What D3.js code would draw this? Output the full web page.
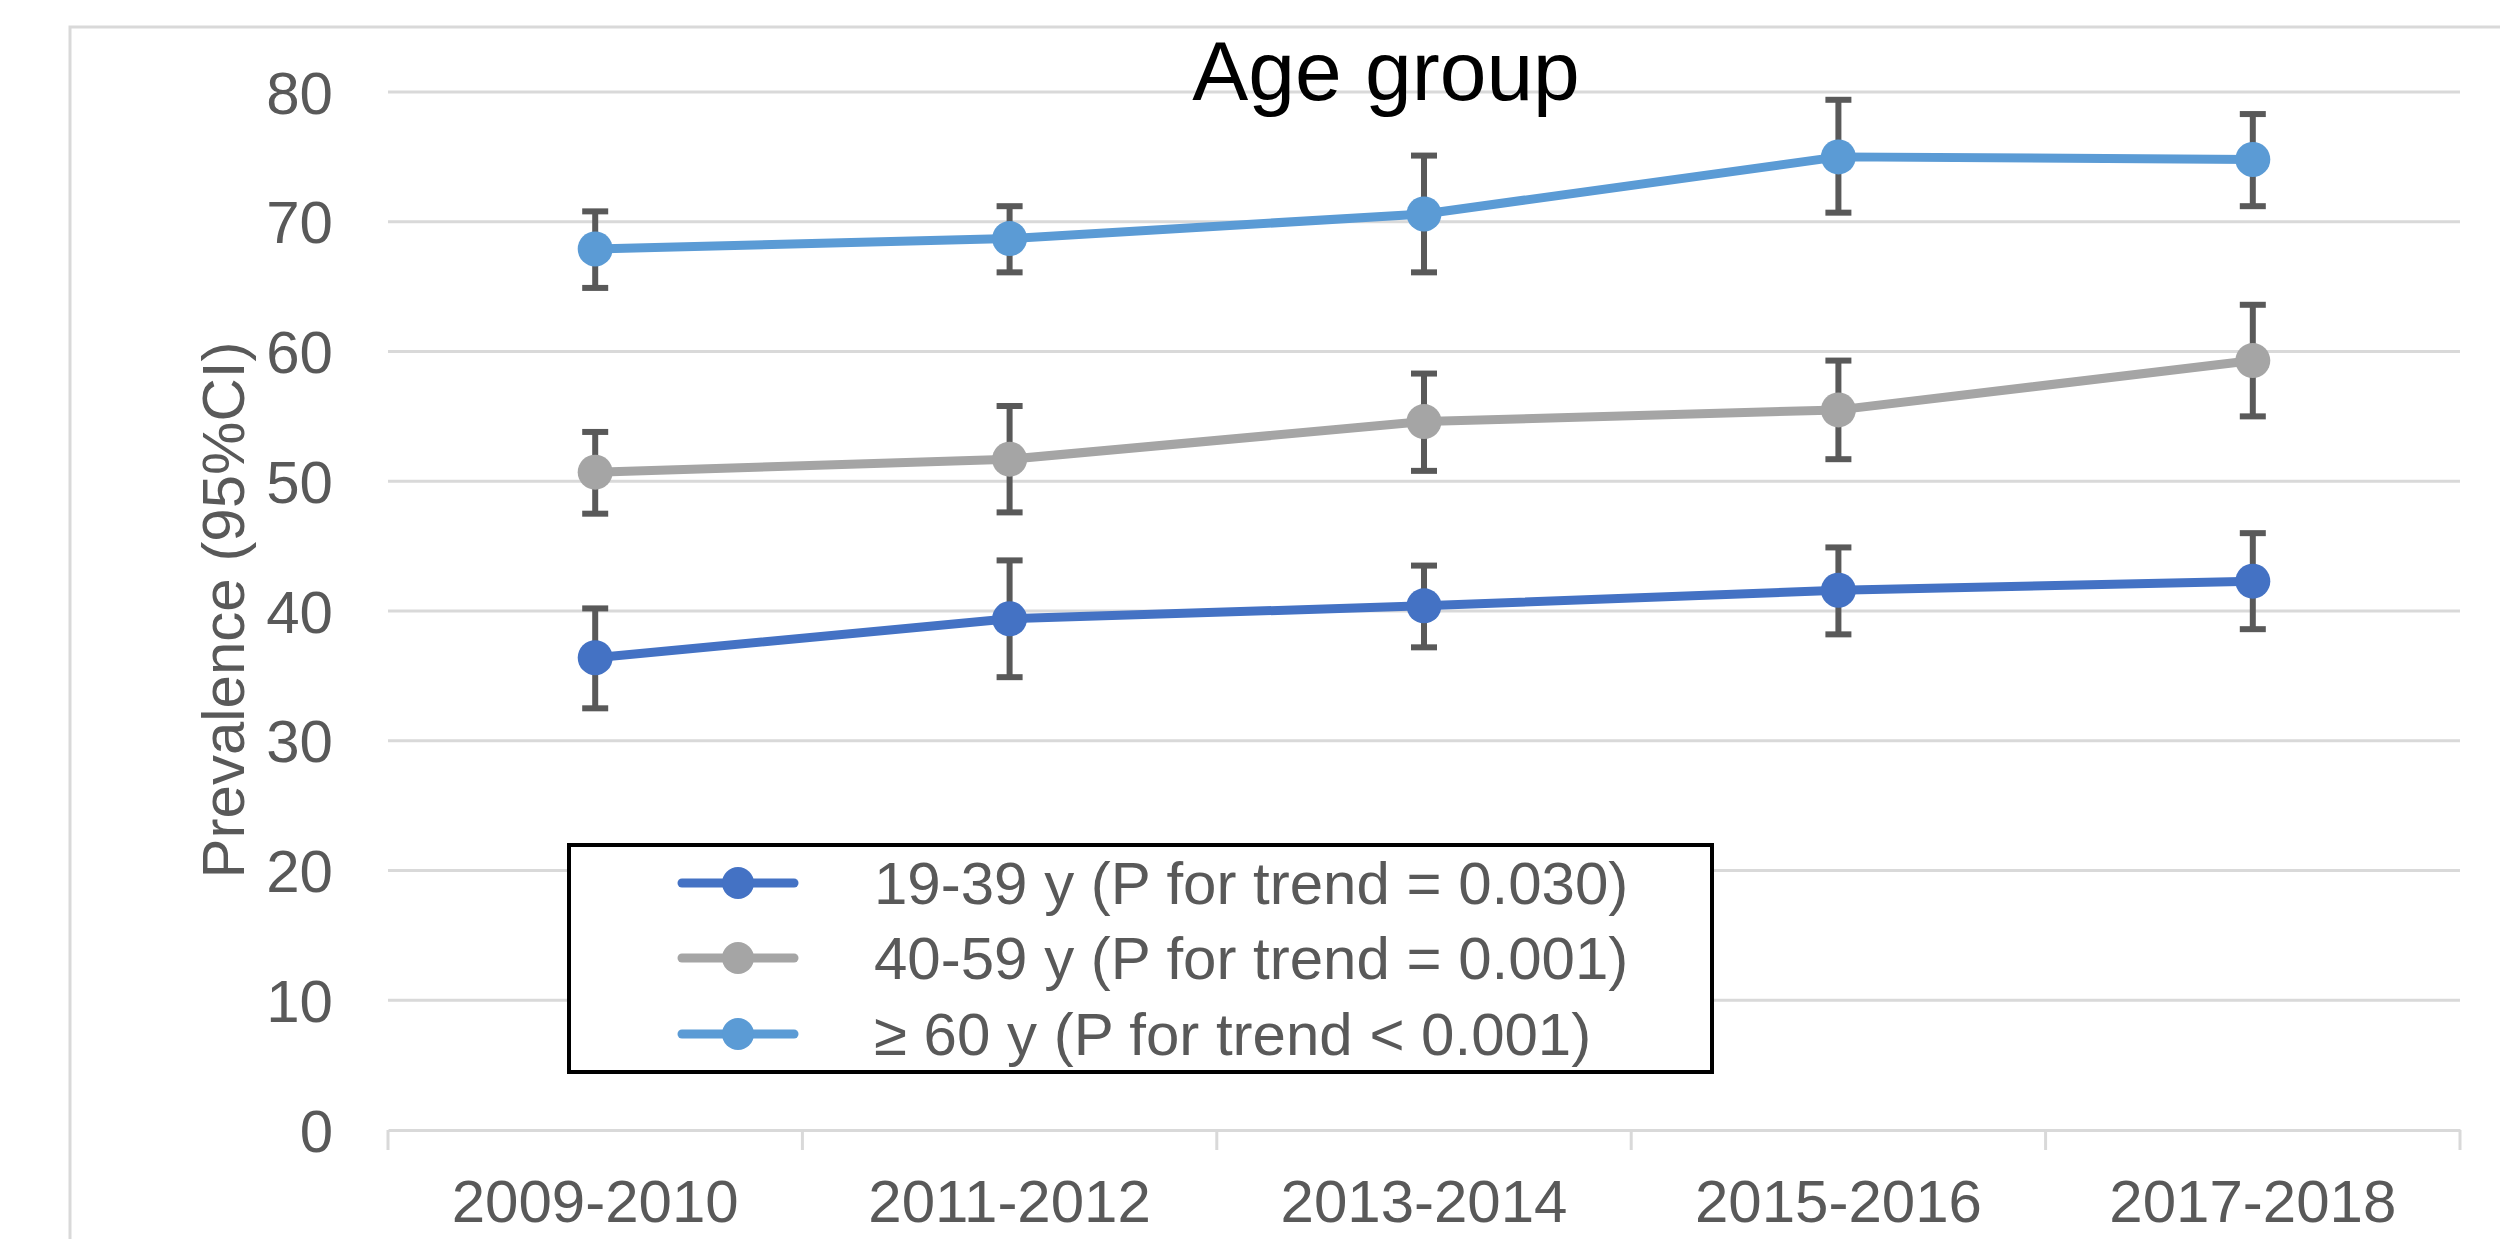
<!DOCTYPE html>
<html>
<head>
<meta charset="utf-8">
<script src="https://cdn.jsdelivr.net/npm/d3@7"></script>
<style>
  html, body { margin: 0; padding: 0; background: #fff; }
  svg { display: block; font-family: "Liberation Sans", Arial, sans-serif; }
</style>
</head>
<body>
<svg id="chart" width="2500" height="1239"></svg>
<script>
const categories = ["2009-2010", "2011-2012", "2013-2014", "2015-2016", "2017-2018"];
const yTicks = [0, 10, 20, 30, 40, 50, 60, 70, 80];
const seriesNames = [
  "19-39 y (P for trend = 0.030)",
  "40-59 y (P for trend = 0.001)",
  "\u2265 60 y (P for trend < 0.001)"
];
const seriesColors = ["#4472C4", "#A5A5A5", "#5B9BD5"];

const young = [36.4, 39.4, 40.4, 41.6, 42.3];
const youngLow = [32.5, 34.9, 37.2, 38.2, 38.6];
const youngHigh = [40.2, 43.9, 43.5, 44.9, 46.0];

const middle = [50.7, 51.7, 54.6, 55.5, 59.3];
const middleLow = [47.5, 47.6, 50.8, 51.7, 55.0];
const middleHigh = [53.8, 55.8, 58.3, 59.3, 63.6];

const old = [67.9, 68.7, 70.6, 75.0, 74.8];
const oldLow = [64.9, 66.1, 66.1, 70.7, 71.2];
const oldHigh = [70.8, 71.2, 75.1, 79.4, 78.3];

const series = [
  { name: seriesNames[0], color: seriesColors[0], values: young, low: youngLow, high: youngHigh },
  { name: seriesNames[1], color: seriesColors[1], values: middle, low: middleLow, high: middleHigh },
  { name: seriesNames[2], color: seriesColors[2], values: old, low: oldLow, high: oldHigh }
];

const svg = d3.select("#chart");
const textColor = "#595959";
const gridColor = "#d9d9d9";

// outer chart-area border
svg.append("rect")
  .attr("x", 70).attr("y", 27)
  .attr("width", 2500).attr("height", 1400)
  .attr("fill", "none").attr("stroke", gridColor).attr("stroke-width", 3);

const x = d3.scaleBand().domain(categories).range([388, 2460]).padding(0);
const y = d3.scaleLinear().domain([0, 80]).range([1130, 92]);

// gridlines
svg.append("g")
  .selectAll("line")
  .data(yTicks.filter(t => t !== 0))
  .join("line")
  .attr("x1", 388).attr("x2", 2460)
  .attr("y1", d => y(d)).attr("y2", d => y(d))
  .attr("stroke", gridColor).attr("stroke-width", 3);

// y axis labels
const yAxis = d3.axisLeft(y).tickValues(yTicks).tickSize(0).tickPadding(0).tickFormat(d3.format("d"));
const gy = svg.append("g").attr("transform", "translate(333,0)").call(yAxis);
gy.select(".domain").remove();
gy.selectAll("text").attr("font-size", 60).attr("fill", textColor)
  .attr("font-family", "'Liberation Sans', Arial, sans-serif").attr("dy", "0.35em");

// x axis
const xAxis = d3.axisBottom(x).tickSize(0).tickPadding(0);
const gx = svg.append("g").attr("transform", `translate(0,${y(0)})`).call(xAxis);
gx.select(".domain").attr("stroke", gridColor).attr("stroke-width", 3);
gx.selectAll("text").attr("font-size", 60).attr("fill", textColor)
  .attr("font-family", "'Liberation Sans', Arial, sans-serif").attr("y", 92).attr("dy", 0);
// category boundary tick marks
const bounds = categories.map(c => x(c)).concat([x.range()[1]]);
svg.append("g").selectAll("line").data(bounds).join("line")
  .attr("x1", d => d).attr("x2", d => d)
  .attr("y1", y(0)).attr("y2", y(0) + 20)
  .attr("stroke", gridColor).attr("stroke-width", 3);

const cx = c => x(c) + x.bandwidth() / 2;
const line = d3.line().x((d, i) => cx(categories[i])).y(d => y(d));

series.forEach(s => {
  const g = svg.append("g");
  g.append("path").datum(s.values)
    .attr("d", line).attr("fill", "none")
    .attr("stroke", s.color).attr("stroke-width", 9).attr("stroke-linejoin", "round");
  // error bars
  const eb = g.append("g").attr("stroke", "#595959").attr("stroke-width", 6);
  categories.forEach((c, i) => {
    const xc = cx(c);
    eb.append("line").attr("x1", xc).attr("x2", xc).attr("y1", y(s.low[i])).attr("y2", y(s.high[i]));
    eb.append("line").attr("x1", xc - 13).attr("x2", xc + 13).attr("y1", y(s.low[i])).attr("y2", y(s.low[i]));
    eb.append("line").attr("x1", xc - 13).attr("x2", xc + 13).attr("y1", y(s.high[i])).attr("y2", y(s.high[i]));
  });
  g.append("g").selectAll("circle").data(s.values).join("circle")
    .attr("cx", (d, i) => cx(categories[i])).attr("cy", d => y(d))
    .attr("r", 17.5).attr("fill", s.color);
});

// title
svg.append("text")
  .attr("x", 1386).attr("y", 100)
  .attr("text-anchor", "middle")
  .attr("font-size", 84).attr("fill", "#000")
  .text("Age group");

// y axis title
svg.append("text")
  .attr("transform", "translate(223,610) rotate(-90)")
  .attr("text-anchor", "middle").attr("dominant-baseline", "central")
  .attr("font-size", 60).attr("fill", textColor)
  .text("Prevalence (95%CI)");

// legend
const legend = svg.append("g");
legend.append("rect")
  .attr("x", 569).attr("y", 845).attr("width", 1143).attr("height", 227)
  .attr("fill", "#fff").attr("stroke", "#000").attr("stroke-width", 4);
const rowY = [883, 958, 1034];
series.forEach((s, i) => {
  const r = legend.append("g");
  r.append("line").attr("x1", 682).attr("x2", 794).attr("y1", rowY[i]).attr("y2", rowY[i])
    .attr("stroke", s.color).attr("stroke-width", 9).attr("stroke-linecap", "round");
  r.append("circle").attr("cx", 738).attr("cy", rowY[i]).attr("r", 16).attr("fill", s.color);
  r.append("text").attr("x", 874).attr("y", rowY[i] + 21)
    .attr("font-size", 60).attr("fill", textColor).text(s.name);
});
</script>
</body>
</html>
